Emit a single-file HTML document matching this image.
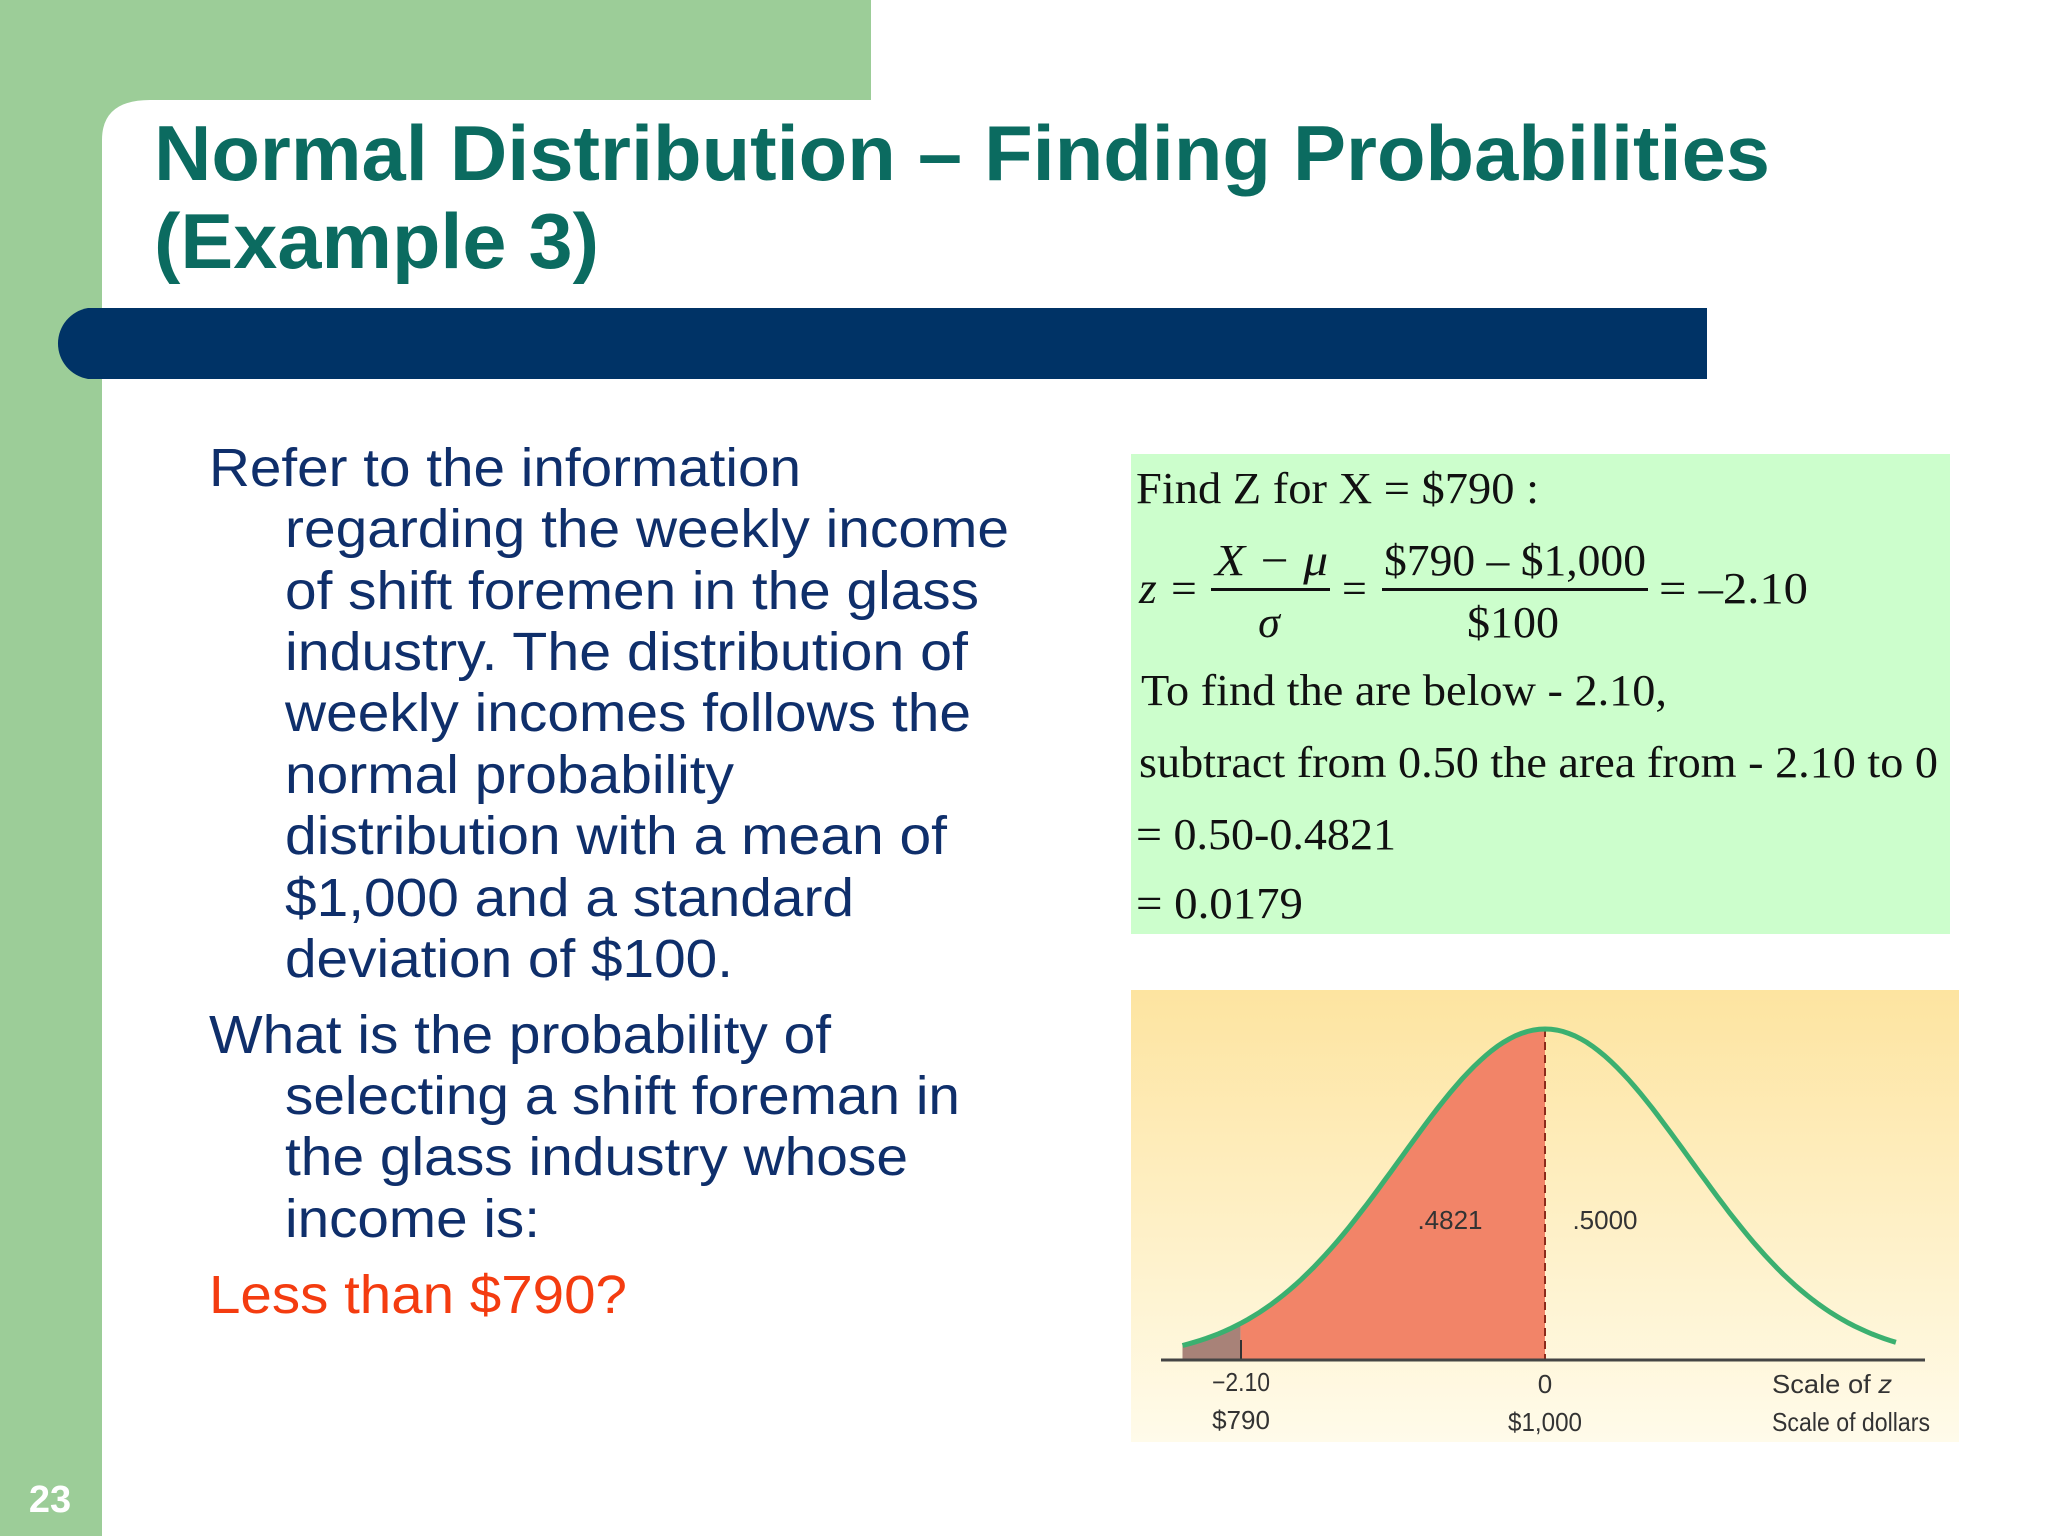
<!DOCTYPE html>
<html><head><meta charset="utf-8"><style>
html,body{margin:0;padding:0;background:#fff}
svg{display:block}
.t{font-family:"Liberation Sans",sans-serif;font-weight:bold;fill:#0b6b60;font-size:78px}
.b{font-family:"Liberation Sans",sans-serif;fill:#0f2f6b;font-size:54px}
.f{font-family:"Liberation Serif",serif;fill:#111;font-size:44px}
.c{font-family:"Liberation Sans",sans-serif;fill:#333;font-size:26px}
</style></head><body>
<svg width="2048" height="1536" viewBox="0 0 2048 1536" xmlns="http://www.w3.org/2000/svg">
<defs>
<linearGradient id="g" x1="0" y1="0" x2="0" y2="1">
<stop offset="0" stop-color="#fde4a0"/><stop offset="1" stop-color="#fffbea"/>
</linearGradient>
</defs>
<rect x="0" y="0" width="871" height="100" fill="#9ccd98"/>
<rect x="0" y="0" width="102" height="1536" fill="#9ccd98"/>
<rect x="102" y="100" width="1946" height="1436" fill="#fff"/>
<path d="M102 100 L150 100 Q102 100 102 140 Z" fill="#9ccd98"/>
<text class="t" x="154" y="180" textLength="1616" lengthAdjust="spacingAndGlyphs">Normal Distribution – Finding Probabilities</text>
<text class="t" x="154" y="268" textLength="445" lengthAdjust="spacingAndGlyphs">(Example 3)</text>
<path d="M88 308 L1707 308 L1707 379 L88 379 A36 36 0 0 1 88 308 Z" fill="#003366"/>
<text x="50" y="1512" text-anchor="middle" font-family="Liberation Sans,sans-serif" font-weight="bold" font-size="38" fill="#fff">23</text>

<g class="b">
<text x="209" y="486" textLength="592" lengthAdjust="spacingAndGlyphs">Refer to the information</text>
<text x="285" y="547" textLength="724" lengthAdjust="spacingAndGlyphs">regarding the weekly income</text>
<text x="285" y="609" textLength="694" lengthAdjust="spacingAndGlyphs">of shift foremen in the glass</text>
<text x="285" y="670" textLength="683" lengthAdjust="spacingAndGlyphs">industry. The distribution of</text>
<text x="285" y="731" textLength="686" lengthAdjust="spacingAndGlyphs">weekly incomes follows the</text>
<text x="285" y="793" textLength="449" lengthAdjust="spacingAndGlyphs">normal probability</text>
<text x="285" y="854" textLength="662" lengthAdjust="spacingAndGlyphs">distribution with a mean of</text>
<text x="285" y="916" textLength="569" lengthAdjust="spacingAndGlyphs">$1,000 and a standard</text>
<text x="285" y="977" textLength="448" lengthAdjust="spacingAndGlyphs">deviation of $100.</text>
<text x="209" y="1053" textLength="622" lengthAdjust="spacingAndGlyphs">What is the probability of</text>
<text x="285" y="1114" textLength="675" lengthAdjust="spacingAndGlyphs">selecting a shift foreman in</text>
<text x="285" y="1175" textLength="623" lengthAdjust="spacingAndGlyphs">the glass industry whose</text>
<text x="285" y="1237" textLength="255" lengthAdjust="spacingAndGlyphs">income is:</text>
<text x="209" y="1313" textLength="418" lengthAdjust="spacingAndGlyphs" style="fill:#f43c10">Less than $790?</text>
</g>

<rect x="1131" y="454" width="819" height="480" fill="#ccfecc"/>
<g class="f">
<text x="1136" y="503" textLength="403" lengthAdjust="spacingAndGlyphs">Find Z for X = $790 :</text>
<text x="1139" y="603" textLength="60" lengthAdjust="spacingAndGlyphs" font-style="italic">z =</text>
<text x="1215" y="575" textLength="113" lengthAdjust="spacingAndGlyphs" font-style="italic">X − μ</text>
<rect x="1211" y="588" width="119" height="3" fill="#111"/>
<text x="1269" y="637" text-anchor="middle" font-style="italic">σ</text>
<text x="1342" y="603">=</text>
<text x="1384" y="575" textLength="262" lengthAdjust="spacingAndGlyphs">$790 – $1,000</text>
<rect x="1382" y="588" width="266" height="3" fill="#111"/>
<text x="1467" y="637" textLength="92" lengthAdjust="spacingAndGlyphs">$100</text>
<text x="1659" y="603" textLength="149" lengthAdjust="spacingAndGlyphs">= –2.10</text>
<text x="1141" y="705" textLength="526" lengthAdjust="spacingAndGlyphs">To find the are below - 2.10,</text>
<text x="1139" y="777" textLength="799" lengthAdjust="spacingAndGlyphs">subtract from 0.50 the area from - 2.10 to 0</text>
<text x="1136" y="849" textLength="260" lengthAdjust="spacingAndGlyphs">= 0.50-0.4821</text>
<text x="1136" y="918" textLength="167" lengthAdjust="spacingAndGlyphs">= 0.0179</text>
</g>

<rect x="1131" y="990" width="828" height="452" fill="url(#g)"/>
<path id="tail" fill="#a88278"/>
<path id="red" fill="#f28468"/>
<line x1="1545" y1="1029" x2="1545" y2="1360" stroke="#8b2b1b" stroke-width="2" stroke-dasharray="8,5"/>
<line x1="1241" y1="1340" x2="1241" y2="1360" stroke="#333" stroke-width="2"/>
<path id="curve" fill="none" stroke="#3bb070" stroke-width="5"/>
<line x1="1161" y1="1360" x2="1925" y2="1360" stroke="#444" stroke-width="3"/>
<g class="c">
<text x="1450" y="1229" text-anchor="middle">.4821</text>
<text x="1605" y="1229" text-anchor="middle">.5000</text>
<text x="1212" y="1391" textLength="58" lengthAdjust="spacingAndGlyphs">−2.10</text>
<text x="1241" y="1429" text-anchor="middle">$790</text>
<text x="1545" y="1393" text-anchor="middle">0</text>
<text x="1508" y="1431" textLength="74" lengthAdjust="spacingAndGlyphs">$1,000</text>
<text x="1772" y="1393" textLength="120" lengthAdjust="spacingAndGlyphs">Scale of <tspan font-style="italic">z</tspan></text>
<text x="1772" y="1431" textLength="158" lengthAdjust="spacingAndGlyphs">Scale of dollars</text>
</g>
<script>
(function(){
var cx=1545,s=145,base=1360,A=331;
function y(z){return base-A*Math.exp(-z*z/2);}
function pts(a,b){var r=[];for(var i=0;i<=120;i++){var z=a+(b-a)*i/120;r.push((cx+z*s).toFixed(1)+' '+y(z).toFixed(1));}return r;}
document.getElementById('curve').setAttribute('d','M'+pts(-2.5,2.42).join(' L'));
var p=pts(-2.1,0);document.getElementById('red').setAttribute('d','M1241 '+base+' L'+p.join(' L')+' L1545 '+base+' Z');
var t=pts(-2.5,-2.1);document.getElementById('tail').setAttribute('d','M'+(cx-2.5*s)+' '+base+' L'+t.join(' L')+' L1241 '+base+' Z');
})();
</script>
</svg>
</body></html>
